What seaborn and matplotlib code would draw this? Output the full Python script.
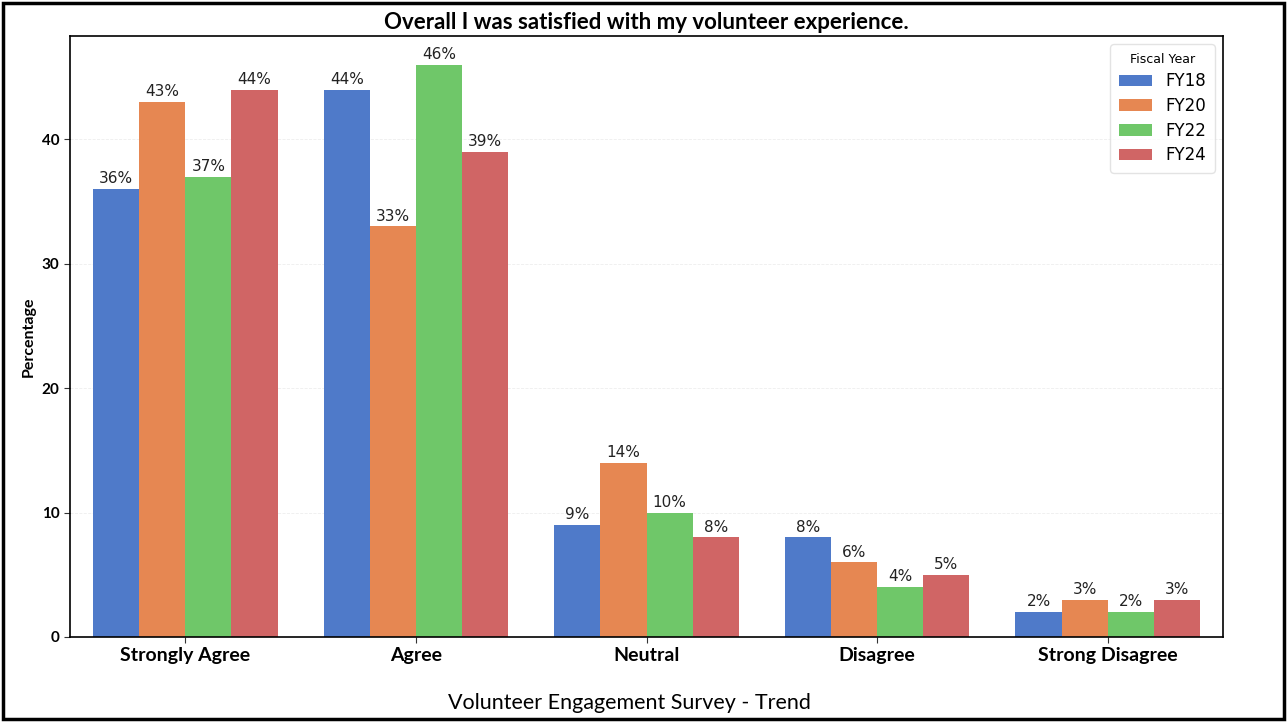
import pandas as pd
import matplotlib.pyplot as plt
import seaborn as sns
from matplotlib.patches import Rectangle

# dados do gráfico
categorias = ['Strongly Agree', 'Agree', 'Neutral', 'Disagree', 'Strong Disagree']
anos = ['FY18', 'FY20', 'FY22', 'FY24']
fy18 = [36, 44, 9, 8, 2]
fy20 = [43, 33, 14, 6, 3]
fy22 = [37, 46, 10, 4, 2]
fy24 = [44, 39, 8, 5, 3]

dados = pd.DataFrame({
    'Resposta': categorias * 4,
    'Fiscal Year': [a for a in anos for _ in categorias],
    'Percentage': fy18 + fy20 + fy22 + fy24,
})

sns.set_style('white')
plt.rcParams['text.color'] = 'black'
plt.rcParams['axes.labelcolor'] = 'black'
plt.rcParams['xtick.color'] = 'black'
plt.rcParams['ytick.color'] = 'black'
fonte_titulo = ['Lato', 'DejaVu Sans']

fig = plt.figure(figsize=(12.87, 7.22), dpi=100)
ax = fig.add_axes([70 / 1287, 1 - 637 / 722, 1153 / 1287, 601 / 722])

sns.barplot(data=dados, x='Resposta', y='Percentage', hue='Fiscal Year',
            palette='muted', saturation=0.9, linewidth=0, ax=ax)

for c in ax.containers:
    ax.bar_label(c, fmt='{:.0f}%', fontsize=11, padding=2, color='#222222')

ax.set_ylim(0, 48.3)
ax.set_xlim(-0.5, 4.5)
ax.set_yticks([0, 10, 20, 30, 40])
ax.yaxis.grid(True, linestyle='--', linewidth=0.6, color='#eeeeee')
ax.set_axisbelow(True)
ax.tick_params(axis='both', length=4, color='#333333', left=True, bottom=True)
for s in ax.spines.values():
    s.set_color('black')
    s.set_linewidth(1.2)

ax.set_xlabel('')
ax.set_ylabel('Percentage', fontsize=11.5, fontweight='bold', family=fonte_titulo)
ax.set_xticks(range(len(categorias)))
ax.set_xticklabels(categorias, fontsize=14, fontweight='bold', family=fonte_titulo)
for t in ax.get_yticklabels():
    t.set_fontsize(11)
    t.set_fontweight('bold')
    t.set_family(fonte_titulo)

ax.set_title('Overall I was satisfied with my volunteer experience.',
             fontsize=16, fontweight='bold', family=fonte_titulo, pad=5)

leg = ax.legend(title='Fiscal Year', loc='upper right', fontsize=12,
                title_fontsize=9, frameon=True, borderpad=0.5,
                labelspacing=0.4)
leg.get_frame().set_edgecolor('#dddddd')

fig.text(629 / 1287, 1 - 703 / 722, 'Volunteer Engagement Survey - Trend',
         ha='center', va='center', fontsize=15.5, family=fonte_titulo)

fig.add_artist(Rectangle((3 / 1287, 3 / 722), 1281 / 1287, 716 / 722,
                         transform=fig.transFigure, fill=False,
                         edgecolor='black', linewidth=2.5))

fig.savefig('out.png', dpi=100)
